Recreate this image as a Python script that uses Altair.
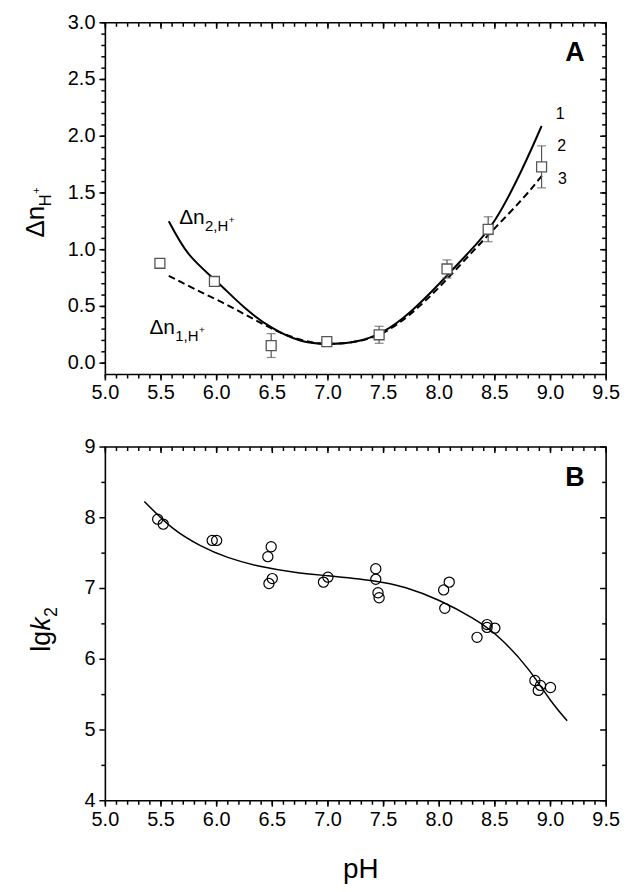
import altair as alt
import pandas as pd

# ---------------- Panel A data ----------------
sq_ph = [5.49, 5.98, 6.49, 6.99, 7.46, 8.07, 8.44, 8.92]
sq_val = [0.88, 0.72, 0.155, 0.19, 0.25, 0.83, 1.18, 1.73]
sq_err = [0.0, 0.0, 0.105, 0.0, 0.075, 0.08, 0.11, 0.185]

c2_ph = [5.57, 5.75, 6.0, 6.25, 6.5, 6.75, 7.0, 7.25, 7.5, 7.75, 8.0, 8.25, 8.5, 8.75, 8.92]
c2_val = [1.25, 0.96, 0.72, 0.49, 0.31, 0.20, 0.17, 0.19, 0.28, 0.46, 0.70, 0.96, 1.26, 1.72, 2.09]

c1_ph = [5.57, 5.8, 6.05, 6.3, 6.55, 6.8, 7.0, 7.25, 7.5, 7.75, 8.0, 8.25, 8.5, 8.75, 8.93]
c1_val = [0.77, 0.655, 0.535, 0.405, 0.28, 0.195, 0.17, 0.19, 0.27, 0.44, 0.67, 0.93, 1.19, 1.45, 1.66]

num_labels = ["1", "2", "3"]
num_ph = [9.086, 9.10, 9.107]
num_val = [2.195, 1.91, 1.625]

# ---------------- Panel B data ----------------
pt_ph = [5.47, 5.52, 5.96, 6.0, 6.49, 6.46, 6.50, 6.47, 7.0, 6.96, 7.43, 7.43, 7.45, 7.46,
         8.09, 8.04, 8.05, 8.34, 8.43, 8.43, 8.50, 8.86, 8.89, 8.91, 9.0]
pt_lgk = [7.98, 7.91, 7.68, 7.68, 7.59, 7.45, 7.14, 7.07, 7.16, 7.09, 7.28, 7.13, 6.94, 6.87,
          7.09, 6.98, 6.72, 6.31, 6.49, 6.45, 6.44, 5.70, 5.56, 5.63, 5.60]

fit_ph = [5.35, 5.6, 5.85, 6.1, 6.4, 6.7, 7.0, 7.4, 7.7, 8.0, 8.3, 8.55, 8.8, 9.0, 9.15]
fit_lgk = [8.23, 7.86, 7.61, 7.44, 7.31, 7.23, 7.18, 7.11, 7.01, 6.83, 6.58, 6.29, 5.86, 5.42, 5.13]

# ---------------- tick values ----------------
x_major = [5.0, 5.5, 6.0, 6.5, 7.0, 7.5, 8.0, 8.5, 9.0, 9.5]
x_minor = [round(5.0 + 0.1 * i, 1) for i in range(46)]
ya_major = [0.0, 0.5, 1.0, 1.5, 2.0, 2.5, 3.0]
ya_minor = [round(0.1 * i, 1) for i in range(31)]
yb_major = [4, 5, 6, 7, 8, 9]
yb_minor = [4.5, 5.5, 6.5, 7.5, 8.5]

FONT = "Liberation Sans"
W = 504
HA = 354
HB = 356
MAJ = 6
MIN = 4


def frame_layers(xdom, ydom, H, ymaj, ymin, yfmt):
    """Ticks (outward left/bottom, inward top/right) and tick labels, all on the panel's scales."""
    xs = alt.Scale(domain=xdom, nice=False, zero=False)
    ys = alt.Scale(domain=ydom, nice=False, zero=False)
    layers = []
    tick_style = dict(color="black", strokeWidth=1.5)
    for vals, ln in ((x_minor, MIN), (x_major, MAJ)):
        d = pd.DataFrame({"t": vals})
        X = alt.X("t:Q", scale=xs, axis=None)
        layers.append(alt.Chart(d).mark_rule(**tick_style).encode(
            x=X, y=alt.value(H), y2=alt.value(H + ln)))
        layers.append(alt.Chart(d).mark_rule(**tick_style).encode(
            x=X, y=alt.value(0), y2=alt.value(ln)))
    for vals, ln in ((ymin, MIN), (ymaj, MAJ)):
        d = pd.DataFrame({"t": vals})
        Y = alt.Y("t:Q", scale=ys, axis=None)
        layers.append(alt.Chart(d).mark_rule(**tick_style).encode(
            y=Y, x=alt.value(-ln), x2=alt.value(0)))
        layers.append(alt.Chart(d).mark_rule(**tick_style).encode(
            y=Y, x=alt.value(W - ln), x2=alt.value(W)))
    # tick labels
    dx_ = pd.DataFrame({"t": x_major})
    layers.append(alt.Chart(dx_).mark_text(font=FONT, fontSize=20, color="black", align="center",
                                           baseline="top").encode(
        x=alt.X("t:Q", scale=xs, axis=None), y=alt.value(H + 9),
        text=alt.Text("t:Q", format=".1f")))
    dy_ = pd.DataFrame({"t": ymaj})
    layers.append(alt.Chart(dy_).mark_text(font=FONT, fontSize=20, color="black", align="right",
                                           baseline="middle").encode(
        y=alt.Y("t:Q", scale=ys, axis=None), x=alt.value(-10),
        text=alt.Text("t:Q", format=yfmt)))
    return layers, xs, ys


# ---------------- Panel A ----------------
fA, xsA, ysA = frame_layers([5.0, 9.5], [-0.1, 3.0], HA, ya_major, ya_minor, ".1f")

dfc2 = pd.DataFrame({"ph": c2_ph, "v": c2_val})
dfc1 = pd.DataFrame({"ph": c1_ph, "v": c1_val})
dfsq = pd.DataFrame({"ph": sq_ph, "v": sq_val, "e": sq_err})
dfsq["lo"] = dfsq["v"] - dfsq["e"]
dfsq["hi"] = dfsq["v"] + dfsq["e"]
dferr = dfsq[dfsq["e"] > 0]

XA = lambda f="ph": alt.X(f + ":Q", scale=xsA, axis=None)
YA = lambda f="v": alt.Y(f + ":Q", scale=ysA, axis=None)

line2 = alt.Chart(dfc2).mark_line(color="black", strokeWidth=2, interpolate="natural").encode(x=XA(), y=YA())
line1 = alt.Chart(dfc1).mark_line(color="black", strokeWidth=2, strokeDash=[7, 4],
                                  interpolate="natural").encode(x=XA(), y=YA())
errA = alt.Chart(dferr).mark_rule(color="#555555", strokeWidth=1.2).encode(
    x=XA(), y=YA("lo"), y2="hi:Q")
capLo = alt.Chart(dferr).mark_tick(color="#555555", thickness=1.2, size=9, orient="horizontal").encode(
    x=XA(), y=YA("lo"))
capHi = alt.Chart(dferr).mark_tick(color="#555555", thickness=1.2, size=9, orient="horizontal").encode(
    x=XA(), y=YA("hi"))
squares = alt.Chart(dfsq).mark_point(shape="square", size=100, filled=True, fill="white",
                                     stroke="#555555", strokeWidth=1.3, opacity=1).encode(x=XA(), y=YA())

dfnum = pd.DataFrame({"ph": num_ph, "v": num_val, "t": num_labels})
nums = alt.Chart(dfnum).mark_text(font=FONT, fontSize=16, color="black", align="center",
                                  baseline="middle").encode(x=XA(), y=YA(), text="t:N")

dfA = pd.DataFrame({"ph": [9.22], "v": [2.73], "t": ["A"]})
letterA = alt.Chart(dfA).mark_text(font=FONT, fontSize=27, fontWeight="bold", color="black",
                                   align="center", baseline="middle").encode(x=XA(), y=YA(), text="t:N")


def dn_label(ph, v, sub, sub_dx, plus_dx):
    d = pd.DataFrame({"ph": [ph], "v": [v]})
    base = alt.Chart(d)
    m = base.mark_text(font=FONT, fontSize=21, color="black", align="left", baseline="alphabetic",
                       text="Δn").encode(x=XA(), y=YA())
    s = base.mark_text(font=FONT, fontSize=15, color="black", align="left", baseline="alphabetic",
                       dx=sub_dx, dy=7, text=sub).encode(x=XA(), y=YA())
    p = base.mark_text(font=FONT, fontSize=10, color="black", align="left", baseline="alphabetic",
                       dx=plus_dx, dy=-1, text="+").encode(x=XA(), y=YA())
    return [m, s, p]


lab2 = dn_label(5.663, 1.225, "2,H", 26, 50)
lab1 = dn_label(5.396, 0.253, "1,H", 26, 50)

# y-axis title of A (rotated, built from pieces)
dtA = pd.DataFrame({"k": [0]})
tA1 = alt.Chart(dtA).mark_text(font=FONT, fontSize=26, color="black", angle=270, align="left",
                               baseline="alphabetic", text="Δn").encode(
    x=alt.value(-62), y=alt.value(216))
tA2 = alt.Chart(dtA).mark_text(font=FONT, fontSize=17, color="black", angle=270, align="left",
                               baseline="alphabetic", text="H", dx=31, dy=7).encode(
    x=alt.value(-62), y=alt.value(216))
tA3 = alt.Chart(dtA).mark_text(font=FONT, fontSize=11, color="black", angle=270, align="left",
                               baseline="alphabetic", text="+", dx=44, dy=-4).encode(
    x=alt.value(-62), y=alt.value(216))

panelA = alt.layer(*fA, line1, line2, errA, capLo, capHi, squares, nums, letterA,
                   *lab2, *lab1, tA1, tA2, tA3).properties(width=W, height=HA)

# ---------------- Panel B ----------------
fB, xsB, ysB = frame_layers([5.0, 9.5], [4, 9], HB, yb_major, yb_minor, "d")
XB = lambda f="ph": alt.X(f + ":Q", scale=xsB, axis=None)
YB = lambda f="v": alt.Y(f + ":Q", scale=ysB, axis=None)

dffit = pd.DataFrame({"ph": fit_ph, "v": fit_lgk})
dfpt = pd.DataFrame({"ph": pt_ph, "v": pt_lgk})

fitB = alt.Chart(dffit).mark_line(color="black", strokeWidth=1.5, interpolate="natural").encode(x=XB(), y=YB())
ptsB = alt.Chart(dfpt).mark_point(shape="circle", size=105, filled=False, stroke="black",
                                  strokeWidth=1.2, opacity=1).encode(x=XB(), y=YB())
dfBl = pd.DataFrame({"ph": [9.22], "v": [8.56], "t": ["B"]})
letterB = alt.Chart(dfBl).mark_text(font=FONT, fontSize=27, fontWeight="bold", color="black",
                                    align="center", baseline="middle").encode(x=XB(), y=YB(), text="t:N")

dtB = pd.DataFrame({"k": [0]})
tB1 = alt.Chart(dtB).mark_text(font=FONT, fontSize=27, color="black", angle=270, align="left",
                               baseline="alphabetic", text="lg").encode(x=alt.value(-56), y=alt.value(206))
tB2 = alt.Chart(dtB).mark_text(font=FONT, fontSize=27, color="black", angle=270, align="left",
                               baseline="alphabetic", fontStyle="italic", text="k", dx=21).encode(
    x=alt.value(-56), y=alt.value(206))
tB3 = alt.Chart(dtB).mark_text(font=FONT, fontSize=18, color="black", angle=270, align="left",
                               baseline="alphabetic", text="2", dx=35, dy=7).encode(
    x=alt.value(-56), y=alt.value(206))
tpH = alt.Chart(dtB).mark_text(font=FONT, fontSize=28, color="black", align="center",
                               baseline="middle", text="pH").encode(
    x=alt.value(W / 2 + 5), y=alt.value(HB + 70))

panelB = alt.layer(*fB, fitB, ptsB, letterB, tB1, tB2, tB3, tpH).properties(width=W, height=HB)

chart = alt.vconcat(panelA, panelB, spacing=32).properties(
    padding={"left": 14, "top": 1, "right": 5, "bottom": 5}
).configure_view(stroke="black", strokeWidth=1.6)

chart.save("out.html", embed_options={"renderer": "svg", "actions": False})
